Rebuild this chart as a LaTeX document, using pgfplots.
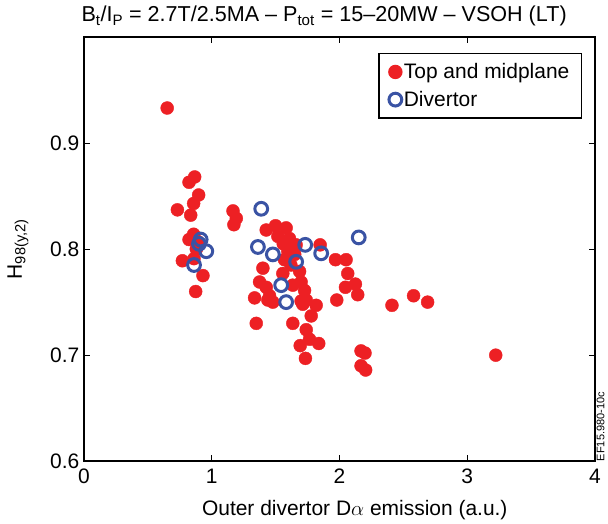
\documentclass[border=0pt]{standalone}
\usepackage{fontspec}
\setmainfont{Liberation Sans}
\usepackage{pgfplots}
\pgfplotsset{compat=1.18}

\definecolor{dotred}{RGB}{237,32,36}
\definecolor{ringblue}{RGB}{58,83,164}

\begin{document}
\begin{tikzpicture}
\begin{axis}[
  scale only axis,
  width=512pt, height=425pt,
  xmin=0, xmax=4, ymin=0.6, ymax=1.0,
  xtick={0,1,2,3,4},
  ytick={0.6,0.7,0.8,0.9},
  yticklabels={0.6,0.7,0.8,0.9},
  extra y ticks={1.0}, extra y tick labels={},
  tick align=inside,
  major tick length=6pt,
  tick style={line width=0.9pt, black},
  axis line style={line width=1.6pt},
  /pgf/number format/assume math mode=true,
  /pgf/number format/fixed,
  /pgf/number format/precision=1,
  tick label style={font=\fontsize{21}{25}\selectfont},
  xticklabel style={yshift=-4pt},
  yticklabel style={xshift=-1pt},
  title={B\textsubscript{t}/I\textsubscript{P} = 2.7T/2.5MA – P\textsubscript{tot} = 15–20MW – VSOH (LT)},
  title style={font=\fontsize{21.6}{25}\selectfont, at={(rel axis cs:0.47,1)}, anchor=base, yshift=9pt},
  xlabel={Outer divertor D$\alpha$ emission (a.u.)},
  xlabel style={font=\fontsize{21}{25}\selectfont, at={(rel axis cs:0.53,0)}, anchor=center, yshift=-49pt},
  ylabel={H\textsubscript{98(y,2)}},
  ylabel style={font=\fontsize{21}{25}\selectfont, at={(rel axis cs:0,0.5)}, anchor=center, yshift=66pt},
  legend style={at={(rel axis cs:1,1)}, anchor=north east, xshift=-13pt, yshift=-16pt,
    draw=black, line width=1.4pt, font=\fontsize{21}{25}\selectfont,
    inner xsep=10pt, inner ysep=8pt, row sep=7pt},
  legend cell align=left,
  clip=false,
]
% Top and midplane
\addplot[only marks, mark=*, mark size=6.5pt, color=dotred, mark options={draw=dotred, fill=dotred}] coordinates {
(0.652,0.933)
(0.867,0.868) (0.823,0.863) (0.898,0.851) (0.859,0.843) (0.732,0.837) (0.836,0.832)
(1.167,0.836) (1.193,0.829) (1.174,0.823)
(0.859,0.814) (0.823,0.809) (0.893,0.807) (0.880,0.800)
(0.771,0.789) (0.862,0.791) (0.932,0.775) (0.875,0.760)
(1.500,0.822) (1.583,0.820) (1.427,0.818) (1.518,0.812) (1.609,0.810) (1.661,0.804)
(1.596,0.798) (1.570,0.790) (1.560,0.805) (1.650,0.795) (1.620,0.785)
(1.401,0.782) (1.688,0.779) (1.557,0.777) (1.700,0.769) (1.635,0.766)
(1.375,0.769) (1.427,0.764) (1.727,0.761) (1.336,0.754) (1.453,0.756) (1.479,0.750)
(1.440,0.752) (1.700,0.751) (1.740,0.752) (1.713,0.748) (1.818,0.747) (1.779,0.737)
(1.349,0.730) (1.635,0.730) (1.740,0.724) (1.766,0.715) (1.838,0.711) (1.693,0.709)
(1.734,0.697)
(1.849,0.804) (1.969,0.790) (2.052,0.790) (2.065,0.777) (2.047,0.764) (2.125,0.767)
(2.143,0.757) (1.979,0.752)
(2.169,0.704) (2.200,0.702) (2.169,0.690) (2.205,0.686)
(2.411,0.747) (2.580,0.756) (2.690,0.750) (3.223,0.700)
};
\addlegendentry{Top and midplane}
% Divertor
\addplot[only marks, mark=o, mark size=6.4pt, line width=3pt, color=ringblue,
  mark options={line width=3pt, draw=ringblue}] coordinates {
(1.388,0.838) (0.914,0.809) (0.901,0.805) (0.958,0.798) (0.862,0.785)
(1.362,0.802) (1.479,0.795) (1.732,0.804) (1.857,0.796) (2.151,0.811)
(1.661,0.788) (1.544,0.766) (1.583,0.750)
};
\addlegendentry{Divertor}
% figure reference code along the right edge
\node[rotate=90, anchor=north west, font=\fontsize{11}{13}\selectfont, inner sep=0pt]
  at ([xshift=1.5pt]rel axis cs:1,0) {EF15.980-10c};
\end{axis}
\path (-84pt,-62pt) rectangle (525pt,462pt);
\end{tikzpicture}
\end{document}
